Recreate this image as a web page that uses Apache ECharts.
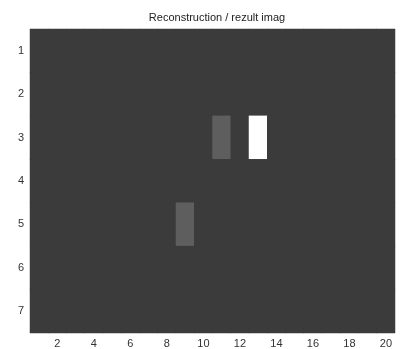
<!DOCTYPE html>
<html><head><meta charset="utf-8">
<script src="https://cdn.jsdelivr.net/npm/echarts@6/dist/echarts.min.js"></script>
<style>html,body{margin:0;padding:0;background:#fff}#c{width:402px;height:349px}</style>
</head><body><div id="c"></div>
<script>
const title = 'Reconstruction / rezult imag';
const cols = Array.from({length:20},(_,i)=>String(i+1));
const rows = ['1','2','3','4','5','6','7'];
// image intensities (0 = background, 1 = white), listed per row
const row1 = [0,0,0,0,0,0,0,0,0,0,0,0,0,0,0,0,0,0,0,0];
const row2 = [0,0,0,0,0,0,0,0,0,0,0,0,0,0,0,0,0,0,0,0];
const row3 = [0,0,0,0,0,0,0,0,0,0,0.18,0,1,0,0,0,0,0,0,0];
const row4 = [0,0,0,0,0,0,0,0,0,0,0,0,0,0,0,0,0,0,0,0];
const row5 = [0,0,0,0,0,0,0,0,0.18,0,0,0,0,0,0,0,0,0,0,0];
const row6 = [0,0,0,0,0,0,0,0,0,0,0,0,0,0,0,0,0,0,0,0];
const row7 = [0,0,0,0,0,0,0,0,0,0,0,0,0,0,0,0,0,0,0,0];
const image = [row1,row2,row3,row4,row5,row6,row7];
const data = [];
image.forEach((r,ri)=>r.forEach((v,ci)=>data.push([ci,ri,v])));
const font = 'Liberation Sans, Arial, sans-serif';
const tickEven = (i)=> (i+1)%2===0;
const chart = echarts.init(document.getElementById('c'));
chart.setOption({
  animation:false,
  title:{text:title,left:212,top:7,textAlign:'center',textStyle:{fontFamily:font,fontSize:11,fontWeight:'normal',color:'#222'}},
  grid:{left:30,right:7,top:29,bottom:14,show:true,backgroundColor:'#3b3b3b',borderWidth:0},
  xAxis:[{type:'category',data:cols,position:'bottom',
    axisLine:{show:false},splitLine:{show:false},splitArea:{show:false},
    axisTick:{show:true,inside:true,length:4,alignWithLabel:true,interval:tickEven,lineStyle:{color:'#666'}},
    axisLabel:{interval:tickEven,margin:5,fontFamily:font,fontSize:11,color:'#333'}},
   {type:'category',data:cols,position:'top',
    axisLine:{show:false},splitLine:{show:false},splitArea:{show:false},
    axisTick:{show:true,inside:true,length:4,alignWithLabel:true,interval:tickEven,lineStyle:{color:'#555'}},
    axisLabel:{show:false}}],
  yAxis:[{type:'category',data:rows,inverse:true,position:'left',
    axisLine:{show:false},splitLine:{show:false},splitArea:{show:false},
    axisTick:{show:true,inside:true,length:4,alignWithLabel:true,lineStyle:{color:'#555'}},
    axisLabel:{margin:6,fontFamily:font,fontSize:11,color:'#333'}},
   {type:'category',data:rows,inverse:true,position:'right',
    axisLine:{show:false},splitLine:{show:false},splitArea:{show:false},
    axisTick:{show:true,inside:true,length:4,alignWithLabel:true,lineStyle:{color:'#555'}},
    axisLabel:{show:false}}],
  visualMap:{show:false,min:0,max:1,inRange:{color:['#3b3b3b','#ffffff']}},
  series:[{type:'heatmap',data:data,z:1,itemStyle:{borderWidth:0}}]
});
</script></body></html>
